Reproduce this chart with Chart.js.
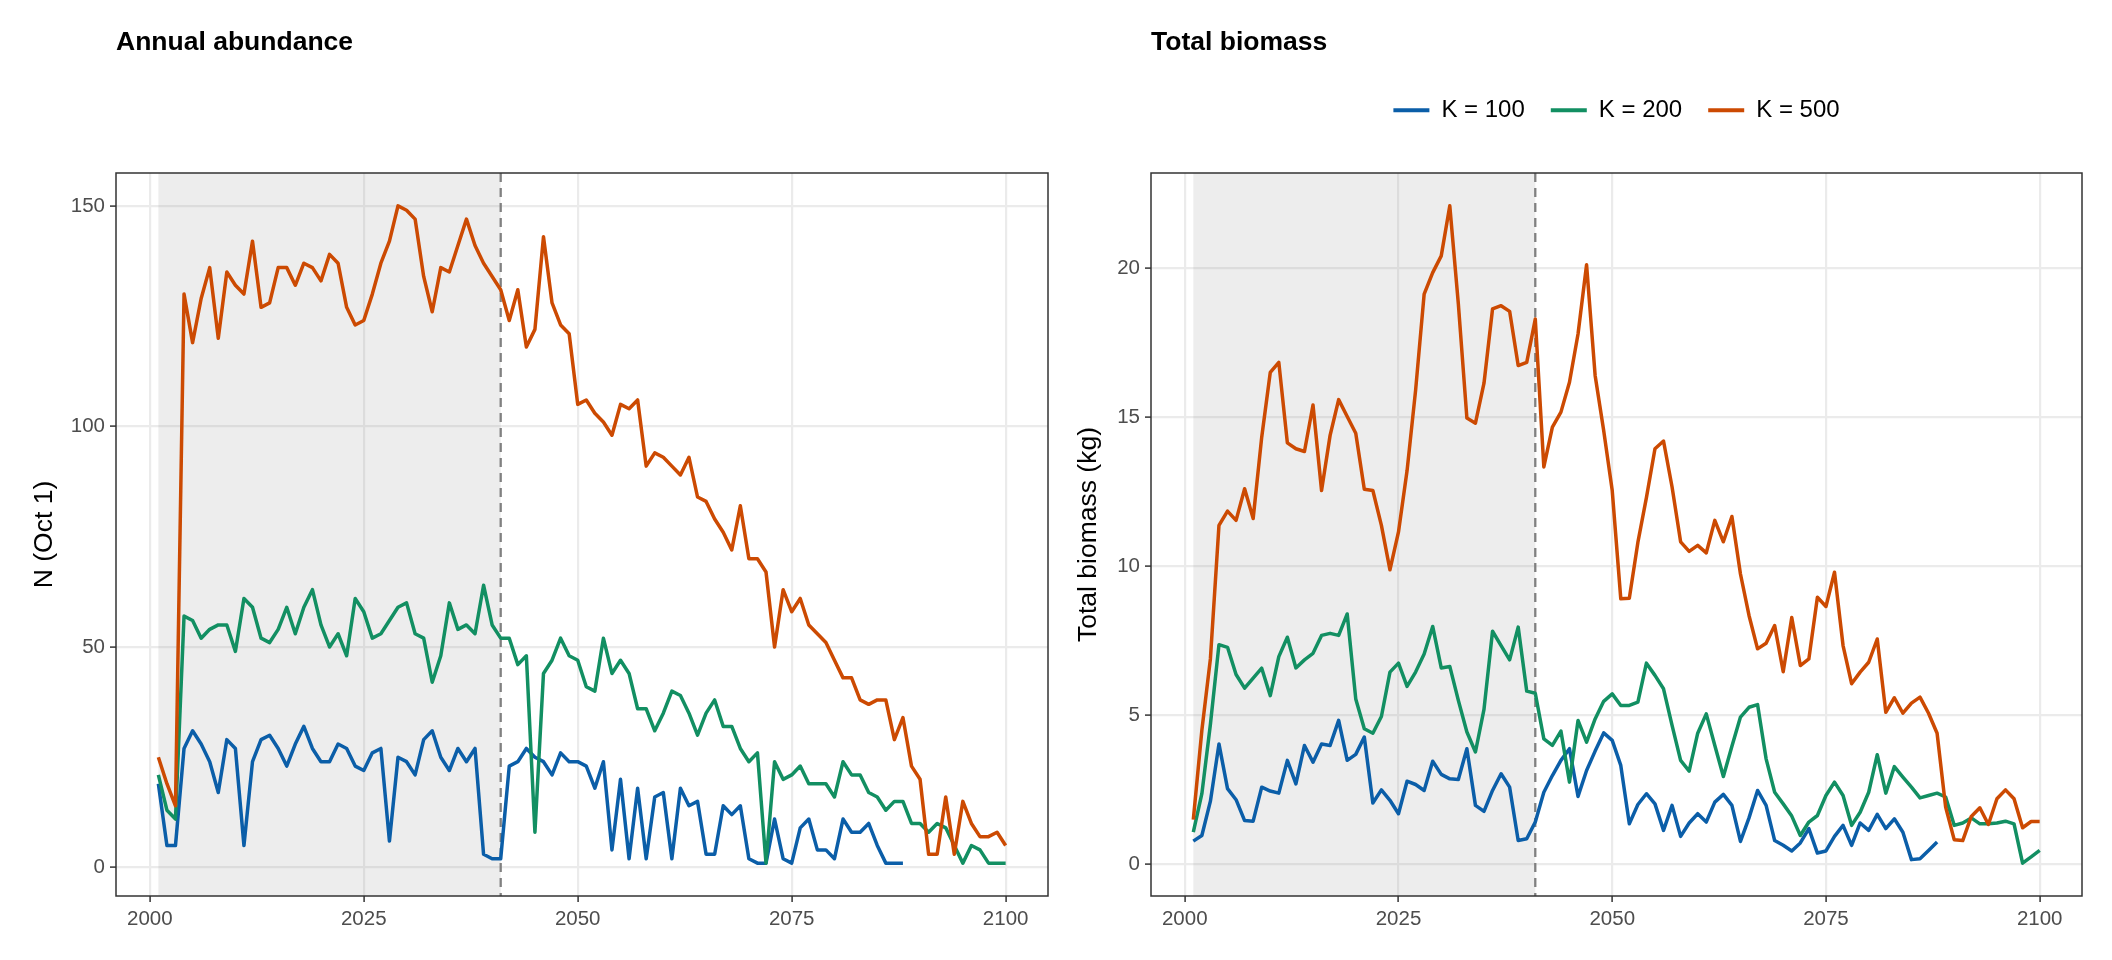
<!DOCTYPE html>
<html>
<head>
<meta charset="utf-8">
<title>Annual abundance and total biomass</title>
<script src="https://cdn.jsdelivr.net/npm/chart.js@4.4.1/dist/chart.umd.min.js"></script>
<style>
  html, body { margin: 0; padding: 0; background: #ffffff; }
  #page { position: relative; width: 2112px; height: 960px; }
  .panel { position: absolute; top: 0; width: 1056px; height: 960px; }
  #left { left: 0; }
  #right { left: 1056px; }
</style>
</head>
<body>
<div id="page">
  <div class="panel" id="left"><canvas id="abundanceChart"></canvas></div>
  <div class="panel" id="right"><canvas id="biomassChart"></canvas></div>
</div>
<script>
// simulated years
const years = [
    2001, 2002, 2003, 2004, 2005, 2006, 2007, 2008, 2009, 2010,
    2011, 2012, 2013, 2014, 2015, 2016, 2017, 2018, 2019, 2020,
    2021, 2022, 2023, 2024, 2025, 2026, 2027, 2028, 2029, 2030,
    2031, 2032, 2033, 2034, 2035, 2036, 2037, 2038, 2039, 2040,
    2041, 2042, 2043, 2044, 2045, 2046, 2047, 2048, 2049, 2050,
    2051, 2052, 2053, 2054, 2055, 2056, 2057, 2058, 2059, 2060,
    2061, 2062, 2063, 2064, 2065, 2066, 2067, 2068, 2069, 2070,
    2071, 2072, 2073, 2074, 2075, 2076, 2077, 2078, 2079, 2080,
    2081, 2082, 2083, 2084, 2085, 2086, 2087, 2088, 2089, 2090,
    2091, 2092, 2093, 2094, 2095, 2096, 2097, 2098, 2099, 2100,
];

// N (Oct 1), K = 100 stops after 2088
const abundanceK100 = [
    19, 5, 5, 27, 31, 28, 24, 17, 29, 27,
    5, 24, 29, 30, 27, 23, 28, 32, 27, 24,
    24, 28, 27, 23, 22, 26, 27, 6, 25, 24,
    21, 29, 31, 25, 22, 27, 24, 27, 3, 2,
    2, 23, 24, 27, 25, 24, 21, 26, 24, 24,
    23, 18, 24, 4, 20, 2, 18, 2, 16, 17,
    2, 18, 14, 15, 3, 3, 14, 12, 14, 2,
    1, 1, 11, 2, 1, 9, 11, 4, 4, 2,
    11, 8, 8, 10, 5, 1, 1, 1,
];
const abundanceK200 = [
    21, 13, 11, 57, 56, 52, 54, 55, 55, 49,
    61, 59, 52, 51, 54, 59, 53, 59, 63, 55,
    50, 53, 48, 61, 58, 52, 53, 56, 59, 60,
    53, 52, 42, 48, 60, 54, 55, 53, 64, 55,
    52, 52, 46, 48, 8, 44, 47, 52, 48, 47,
    41, 40, 52, 44, 47, 44, 36, 36, 31, 35,
    40, 39, 35, 30, 35, 38, 32, 32, 27, 24,
    26, 1, 24, 20, 21, 23, 19, 19, 19, 16,
    24, 21, 21, 17, 16, 13, 15, 15, 10, 10,
    8, 10, 9, 5, 1, 5, 4, 1, 1, 1,
];
const abundanceK500 = [
    25, 19, 14, 130, 119, 129, 136, 120, 135, 132,
    130, 142, 127, 128, 136, 136, 132, 137, 136, 133,
    139, 137, 127, 123, 124, 130, 137, 142, 150, 149,
    147, 134, 126, 136, 135, 141, 147, 141, 137, 134,
    131, 124, 131, 118, 122, 143, 128, 123, 121, 105,
    106, 103, 101, 98, 105, 104, 106, 91, 94, 93,
    91, 89, 93, 84, 83, 79, 76, 72, 82, 70,
    70, 67, 50, 63, 58, 61, 55, 53, 51, 47,
    43, 43, 38, 37, 38, 38, 29, 34, 23, 20,
    3, 3, 16, 3, 15, 10, 7, 7, 8, 5,
];

// total biomass (kg)
const biomassK100 = [
    0.78, 0.97, 2.12, 4.04, 2.54, 2.17, 1.47, 1.45, 2.59, 2.46,
    2.39, 3.49, 2.70, 3.99, 3.43, 4.04, 3.99, 4.83, 3.49, 3.69,
    4.27, 2.06, 2.50, 2.15, 1.70, 2.79, 2.68, 2.48, 3.46, 3.02,
    2.87, 2.85, 3.88, 1.98, 1.78, 2.48, 3.04, 2.59, 0.80, 0.86,
    1.42, 2.42, 2.98, 3.49, 3.88, 2.28, 3.15, 3.80, 4.41, 4.16,
    3.32, 1.36, 2.01, 2.37, 2.03, 1.14, 1.98, 0.94, 1.39, 1.70,
    1.42, 2.09, 2.35, 1.98, 0.77, 1.56, 2.48, 1.98, 0.80, 0.64,
    0.45, 0.72, 1.20, 0.38, 0.45, 0.94, 1.31, 0.64, 1.39, 1.14,
    1.68, 1.20, 1.53, 1.08, 0.16, 0.19, 0.47, 0.75,
];
const biomassK200 = [
    1.08, 2.37, 4.70, 7.37, 7.28, 6.37, 5.91, 6.25, 6.58, 5.66,
    6.97, 7.62, 6.59, 6.86, 7.08, 7.68, 7.75, 7.68, 8.40, 5.55,
    4.55, 4.40, 4.96, 6.45, 6.75, 5.97, 6.45, 7.06, 7.98, 6.59,
    6.64, 5.50, 4.44, 3.77, 5.20, 7.82, 7.34, 6.86, 7.96, 5.81,
    5.74, 4.21, 3.99, 4.47, 2.76, 4.83, 4.10, 4.88, 5.47, 5.72,
    5.33, 5.33, 5.44, 6.75, 6.34, 5.89, 4.66, 3.49, 3.13, 4.40,
    5.05, 3.99, 2.95, 3.96, 4.94, 5.27, 5.36, 3.54, 2.42, 2.03,
    1.62, 0.97, 1.42, 1.64, 2.31, 2.76, 2.31, 1.31, 1.75, 2.42,
    3.68, 2.39, 3.28, 2.93, 2.59, 2.23, 2.31, 2.39, 2.26, 1.31,
    1.39, 1.56, 1.36, 1.36, 1.39, 1.45, 1.36, 0.04, 0.25, 0.47,
];
const biomassK500 = [
    1.50, 4.50, 6.90, 11.37, 11.85, 11.54, 12.60, 11.60, 14.33, 16.50,
    16.84, 14.14, 13.94, 13.85, 15.41, 12.54, 14.39, 15.59, 15.02, 14.46,
    12.58, 12.54, 11.37, 9.88, 11.15, 13.20, 15.90, 19.13, 19.85, 20.41,
    22.09, 18.80, 14.97, 14.80, 16.14, 18.63, 18.74, 18.55, 16.73, 16.84,
    18.29, 13.33, 14.67, 15.17, 16.17, 17.79, 20.11, 16.40, 14.55, 12.54,
    8.91, 8.93, 10.80, 12.30, 13.94, 14.20, 12.66, 10.82, 10.50, 10.70,
    10.45, 11.54, 10.82, 11.67, 9.74, 8.35, 7.23, 7.42, 8.01, 6.46,
    8.28, 6.67, 6.89, 8.96, 8.65, 9.80, 7.34, 6.06, 6.45, 6.78,
    7.56, 5.10, 5.59, 5.07, 5.41, 5.61, 5.07, 4.40, 1.92, 0.83,
    0.80, 1.61, 1.90, 1.34, 2.20, 2.50, 2.20, 1.23, 1.44, 1.44,
];

const seriesLabels = ['K = 100', 'K = 200', 'K = 500'];
const seriesColors = ['#0b5ea8', '#128f62', '#cc4a02'];

const xTicks = [2000, 2025, 2050, 2075, 2100];
const abundanceTicks = [0, 50, 100, 150];
const biomassTicks = [0, 5, 10, 15, 20];

// shaded period and the dashed marker at its end
const periodStart = 2001;
const periodEnd = 2041;

const FONT = "'Liberation Sans', Arial, Helvetica, sans-serif";

function toPoints(values) {
    return values.map((v, i) => ({x: years[i], y: v}));
}

const panelPlugin = {
    id: 'panel',
    beforeDatasetsDraw(chart) {
        const {ctx, chartArea, scales} = chart;
        const x0 = scales.x.getPixelForValue(periodStart);
        const x1 = scales.x.getPixelForValue(periodEnd);
        ctx.save();
        ctx.fillStyle = 'rgba(150, 150, 150, 0.17)';
        ctx.fillRect(x0, chartArea.top, x1 - x0, chartArea.bottom - chartArea.top);
        ctx.strokeStyle = '#808080';
        ctx.lineWidth = 2.3;
        ctx.setLineDash([9, 6]);
        ctx.beginPath();
        ctx.moveTo(x1, chartArea.top);
        ctx.lineTo(x1, chartArea.bottom);
        ctx.stroke();
        ctx.restore();
    },
    afterDatasetsDraw(chart) {
        // panel border like theme_bw
        const {ctx, chartArea} = chart;
        ctx.save();
        ctx.strokeStyle = '#333333';
        ctx.lineWidth = 1.5;
        ctx.strokeRect(chartArea.left, chartArea.top,
            chartArea.right - chartArea.left, chartArea.bottom - chartArea.top);
        ctx.restore();
    }
};

function gridOptions() {
    return {
        color: '#ebebeb',
        lineWidth: 2.2,
        tickColor: '#333333',
        tickWidth: 1.5,
        tickLength: 6,
    };
}

function panelChart(canvasId, cfg) {
    const datasets = cfg.series.map((values, i) => ({
        label: seriesLabels[i],
        data: toPoints(values),
        xAxisID: 'x',
        yAxisID: 'y',
        borderColor: seriesColors[i],
        backgroundColor: seriesColors[i],
        borderWidth: 3.5,
        borderJoinStyle: 'round',
        pointRadius: 0,
        tension: 0,
        fill: false,
        order: cfg.series.length - i,
    }));

    const scales = {
        x: {
            type: 'linear',
            min: 1996.05,
            max: 2104.95,
            afterBuildTicks: s => { s.ticks = xTicks.map(v => ({value: v})); },
            afterFit: s => { s.height = 64; },
            grid: gridOptions(),
            border: {display: false},
            ticks: {
                color: '#4d4d4d',
                font: {family: FONT, size: 20.5},
                padding: 5,
                maxRotation: 0,
                autoSkip: false,
                callback: v => String(v),
            },
        },
        y: {
            type: 'linear',
            min: cfg.yMin,
            max: cfg.yMax,
            afterBuildTicks: s => { s.ticks = cfg.yTicks.map(v => ({value: v})); },
            afterFit: s => { s.width = cfg.axisWidth; },
            grid: gridOptions(),
            border: {display: false},
            ticks: {
                color: '#4d4d4d',
                font: {family: FONT, size: 20.5},
                padding: 5,
                callback: v => String(v),
            },
            title: {
                display: true,
                text: cfg.yTitle,
                color: '#000000',
                font: {family: FONT, size: 26.5},
                padding: {top: cfg.yTitlePad, bottom: 0},
            },
        },
    };

    // empty band between the legend and the panel
    if (cfg.gap > 0) {
        scales.gap = {
            type: 'linear',
            position: 'top',
            display: true,
            grid: {display: false, drawTicks: false},
            border: {display: false},
            ticks: {display: false},
            afterFit: s => { s.height = cfg.gap; },
        };
    }

    const options = {
        responsive: true,
        maintainAspectRatio: false,
        animation: false,
        events: [],
        layout: {
            padding: {left: 0, right: cfg.padRight, top: 0, bottom: 0}
        },
        scales,
        plugins: {
            title: {
                display: true,
                text: cfg.title,
                align: 'start',
                fullSize: false,
                color: '#000000',
                font: {family: FONT, size: 26.5, weight: 'bold'},
                padding: {top: 26.4, bottom: cfg.titlePadBottom},
            },
            legend: {
                display: cfg.legend,
                position: 'top',
                align: 'center',
                fullSize: false,
                labels: {
                    boxWidth: 36,
                    boxHeight: 4,
                    padding: 26,
                    color: '#000000',
                    font: {family: FONT, size: 24},
                    sort: (a, b) => a.datasetIndex - b.datasetIndex,
                    generateLabels(chart) {
                        const items = Chart.defaults.plugins.legend.labels.generateLabels(chart);
                        items.forEach(it => { it.lineWidth = 0; });
                        return items;
                    },
                },
            },
            tooltip: {enabled: false},
        },
    };

    const element = document.getElementById(canvasId);
    return new Chart(element, {
        type: 'line',
        data: {datasets},
        options,
        plugins: [panelPlugin],
    });
}

panelChart('abundanceChart', {
    title: 'Annual abundance',
    yTitle: 'N (Oct 1)',
    series: [abundanceK100, abundanceK200, abundanceK500],
    yMin: -6.45,
    yMax: 157.45,
    yTicks: abundanceTicks,
    axisWidth: 116,
    yTitlePad: 28.6,
    padRight: 8,
    titlePadBottom: 114.8,
    legend: false,
    gap: 0,
});

panelChart('biomassChart', {
    title: 'Total biomass',
    yTitle: 'Total biomass (kg)',
    series: [biomassK100, biomassK200, biomassK500],
    yMin: -1.06,
    yMax: 23.19,
    yTicks: biomassTicks,
    axisWidth: 95,
    yTitlePad: 16.6,
    padRight: 30,
    titlePadBottom: 14,
    legend: true,
    gap: 40.8,
});
</script>
</body>
</html>
